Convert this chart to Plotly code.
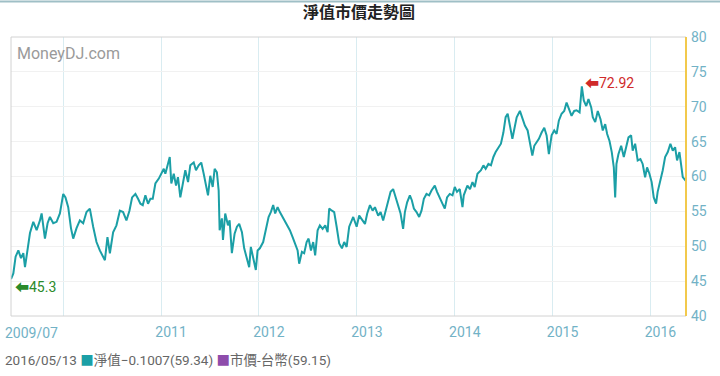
import plotly.graph_objects as go
from datetime import datetime

# ---- data ----
t_year = [
    2009.466, 2009.490, 2009.513, 2009.541, 2009.568, 2009.592, 2009.609, 2009.636, 2009.660, 2009.694,
    2009.728, 2009.762, 2009.779, 2009.813, 2009.840, 2009.864, 2009.898, 2009.932, 2009.966, 2010.000,
    2010.023, 2010.051, 2010.079, 2010.102, 2010.136, 2010.170, 2010.204, 2010.238, 2010.272, 2010.306,
    2010.340, 2010.374, 2010.398, 2010.426, 2010.452, 2010.477, 2010.510, 2010.544, 2010.579, 2010.612,
    2010.646, 2010.677, 2010.704, 2010.738, 2010.765, 2010.789, 2010.813, 2010.840, 2010.867, 2010.891,
    2010.915, 2010.942, 2010.977, 2011.003, 2011.028, 2011.044, 2011.071, 2011.089, 2011.105, 2011.130,
    2011.153, 2011.173, 2011.197, 2011.224, 2011.248, 2011.276, 2011.299, 2011.334, 2011.357, 2011.385,
    2011.411, 2011.436, 2011.459, 2011.480, 2011.503, 2011.528, 2011.548, 2011.571, 2011.589, 2011.599,
    2011.622, 2011.633, 2011.656, 2011.684, 2011.701, 2011.724, 2011.752, 2011.776, 2011.799, 2011.827,
    2011.850, 2011.874, 2011.901, 2011.918, 2011.942, 2011.969, 2011.987, 2012.010, 2012.044, 2012.071,
    2012.099, 2012.122, 2012.146, 2012.166, 2012.191, 2012.214, 2012.242, 2012.268, 2012.293, 2012.316,
    2012.344, 2012.370, 2012.395, 2012.411, 2012.439, 2012.462, 2012.487, 2012.507, 2012.531, 2012.554,
    2012.574, 2012.599, 2012.622, 2012.650, 2012.677, 2012.701, 2012.717, 2012.745, 2012.768, 2012.793,
    2012.819, 2012.847, 2012.870, 2012.895, 2012.921, 2012.962, 2012.997, 2013.023, 2013.058, 2013.082,
    2013.105, 2013.133, 2013.160, 2013.184, 2013.217, 2013.242, 2013.268, 2013.296, 2013.319, 2013.344,
    2013.370, 2013.398, 2013.421, 2013.446, 2013.472, 2013.490, 2013.513, 2013.541, 2013.561, 2013.582,
    2013.609, 2013.636, 2013.660, 2013.684, 2013.711, 2013.738, 2013.762, 2013.796, 2013.819, 2013.847,
    2013.874, 2013.898, 2013.921, 2013.949, 2013.977, 2014.000, 2014.023, 2014.051, 2014.079, 2014.092,
    2014.129, 2014.156, 2014.181, 2014.204, 2014.232, 2014.268, 2014.293, 2014.316, 2014.344, 2014.370,
    2014.395, 2014.418, 2014.446, 2014.472, 2014.497, 2014.520, 2014.541, 2014.564, 2014.589, 2014.609,
    2014.633, 2014.666, 2014.691, 2014.717, 2014.745, 2014.768, 2014.793, 2014.813, 2014.837, 2014.860,
    2014.888, 2014.915, 2014.939, 2014.962, 2014.990, 2015.017, 2015.041, 2015.064, 2015.092, 2015.119,
    2015.143, 2015.166, 2015.194, 2015.221, 2015.245, 2015.276, 2015.299, 2015.319, 2015.344, 2015.367,
    2015.395, 2015.411, 2015.436, 2015.462, 2015.490, 2015.513, 2015.538, 2015.558, 2015.582, 2015.605,
    2015.626, 2015.640, 2015.653, 2015.673, 2015.701, 2015.728, 2015.752, 2015.776, 2015.803, 2015.819,
    2015.844, 2015.870, 2015.898, 2015.921, 2015.946, 2015.966, 2015.990, 2016.013, 2016.034, 2016.058,
    2016.074, 2016.102, 2016.126, 2016.150, 2016.177, 2016.204, 2016.228, 2016.252, 2016.272, 2016.296,
    2016.313, 2016.330, 2016.363,
]
nav = [
    45.3, 46.1, 48.5, 49.4, 48.3, 49.0, 47.0, 49.7, 51.9, 53.5,
    52.3, 53.7, 54.7, 51.1, 53.3, 54.2, 53.3, 53.5, 54.7, 57.5,
    57.0, 55.6, 52.6, 51.1, 52.6, 53.7, 53.3, 54.9, 55.4, 52.8,
    50.6, 49.4, 48.7, 48.0, 51.3, 49.0, 52.0, 53.0, 55.1, 54.9,
    53.7, 55.1, 57.0, 57.5, 56.8, 56.1, 55.9, 57.3, 56.1, 56.8,
    56.8, 59.0, 59.7, 60.4, 61.1, 60.4, 62.0, 62.8, 59.0, 60.4,
    58.7, 59.9, 57.0, 59.0, 60.9, 59.2, 61.6, 62.0, 60.9, 61.6,
    62.0, 60.4, 58.5, 57.3, 60.1, 58.5, 61.1, 60.6, 58.0, 52.3,
    54.0, 50.9, 54.7, 53.0, 53.7, 49.0, 51.8, 52.8, 53.2, 52.0,
    49.7, 48.5, 47.0, 49.9, 48.5, 46.6, 49.4, 49.7, 50.6, 52.3,
    54.2, 54.9, 55.9, 54.7, 55.6, 54.9, 54.2, 53.5, 53.0, 52.3,
    51.3, 50.4, 49.4, 47.5, 49.2, 49.0, 50.6, 51.1, 49.4, 50.6,
    48.7, 52.3, 53.0, 52.5, 53.0, 52.0, 55.4, 55.1, 54.9, 52.8,
    50.4, 49.7, 50.6, 49.9, 52.8, 54.2, 52.8, 54.4, 53.7, 53.2,
    54.7, 55.9, 55.1, 55.6, 54.4, 54.9, 53.7, 55.1, 56.6, 57.8,
    58.2, 57.0, 56.1, 54.7, 52.5, 54.9, 56.3, 57.3, 56.6, 55.4,
    54.9, 54.2, 55.1, 56.8, 57.5, 57.3, 58.0, 58.7, 57.8, 56.8,
    56.1, 55.4, 57.0, 57.5, 57.3, 58.5, 57.8, 58.2, 55.6, 57.3,
    58.7, 58.2, 59.2, 58.5, 60.4, 60.9, 61.6, 61.1, 61.8, 61.6,
    62.8, 63.5, 64.2, 64.7, 66.3, 68.5, 69.0, 67.5, 65.4, 66.8,
    68.5, 69.4, 68.5, 67.3, 66.6, 64.9, 63.0, 64.4, 64.9, 65.4,
    66.3, 67.0, 65.9, 63.2, 65.9, 66.6, 66.1, 68.0, 69.0, 69.4,
    70.6, 69.7, 68.7, 69.4, 69.5, 69.2, 72.92, 70.9, 70.1, 71.1,
    69.9, 68.5, 67.8, 69.4, 68.2, 66.6, 67.5, 66.1, 65.1, 63.5,
    61.3, 57.0, 61.8, 63.2, 64.4, 62.8, 64.2, 65.6, 65.9, 63.7,
    64.7, 62.3, 62.5, 61.8, 59.9, 61.3, 60.4, 59.2, 57.0, 56.1,
    57.8, 59.4, 60.9, 62.8, 63.5, 64.7, 63.7, 64.2, 62.3, 63.5,
    61.8, 59.9, 59.34,
]
year_ticks = ["2010-01-01", "2011-01-01", "2012-01-01", "2013-01-01",
              "2014-01-01", "2015-01-01", "2016-01-01"]
year_labels = ["", "2011", "2012", "2013", "2014", "2015", "2016"]
first_label = "2009/07"
y_ticks = [40, 45, 50, 55, 60, 65, 70, 75, 80]
title_text = "淨值市價走勢圖"
legend_date = "2016/05/13"
legend_nav = "淨值−0.1007(59.34)"
legend_price = "市價-台幣(59.15)"


def to_date(y):
    yr = int(y)
    start, end = datetime(yr, 1, 1), datetime(yr + 1, 1, 1)
    return start + (end - start) * (y - yr)


dates = [to_date(v) for v in t_year]
imax = max(range(len(nav)), key=lambda i: nav[i])
imin = min(range(len(nav)), key=lambda i: nav[i])

TEAL = "#1b9fa6"
TICK = "#72b2c6"
FONT = "Roboto, 'Noto Sans CJK TC', sans-serif"

fig = go.Figure()
fig.add_trace(go.Scatter(x=dates, y=nav, mode="lines",
                         line=dict(color=TEAL, width=2), hoverinfo="skip"))

fig.update_layout(
    width=720, height=376,
    margin=dict(l=11, r=34, t=37, b=60),
    paper_bgcolor="white", plot_bgcolor="white",
    showlegend=False,
    font=dict(family=FONT),
    xaxis=dict(
        type="date", range=[dates[0], dates[-1]],
        tickvals=year_ticks, ticktext=year_labels,
        showgrid=True, gridcolor="#d9ecf1", gridwidth=1,
        zeroline=False, showline=False, ticks="",
        tickfont=dict(size=14, color=TICK), ticklabelshift=10,
        ticklabelstandoff=6,
    ),
    yaxis=dict(
        side="right", range=[40, 80], tickvals=y_ticks,
        showgrid=True, gridcolor="#f1f1f1", gridwidth=1,
        zeroline=False, showline=False, ticks="",
        tickfont=dict(size=14, color=TICK), ticklabelstandoff=4,
    ),
    shapes=[
        dict(type="rect", xref="paper", yref="paper", x0=0, x1=1, y0=0, y1=1,
             line=dict(color="#d2d2d2", width=1)),
        dict(type="line", xref="paper", yref="paper", x0=1, x1=1, y0=0, y1=1,
             line=dict(color="#f2c94c", width=2)),
        dict(type="line", xref="paper", yref="paper", x0=-0.0163, x1=1.0504,
             y0=1.127, y1=1.127, line=dict(color="#9fbfc6", width=2)),
    ],
    annotations=[
        dict(text=f"<b>{title_text}</b>", xref="paper", yref="paper",
             x=0.515, y=1, yshift=25, xanchor="center", yanchor="middle",
             showarrow=False, font=dict(size=16, color="#222222")),
        dict(text="MoneyDJ.com", xref="paper", yref="paper", x=0, y=1,
             xshift=4, yshift=-16, xanchor="left", yanchor="middle",
             showarrow=False, font=dict(size=16, color="#9a9a9a")),
        dict(text=first_label, xref="paper", yref="paper", x=0, y=0,
             xshift=-8, yshift=-17, xanchor="left", yanchor="middle",
             showarrow=False, font=dict(size=14, color=TICK)),
        dict(text=f"⬅{nav[imin]:g}", x=dates[imin], y=nav[imin],
             xanchor="left", yanchor="middle", xshift=2, yshift=-8,
             showarrow=False, font=dict(size=14, color="#2a8a2a")),
        dict(text=f"⬅{nav[imax]:.2f}", x=dates[imax], y=nav[imax],
             xanchor="left", yanchor="middle", xshift=1, yshift=3,
             showarrow=False, font=dict(size=14, color="#d02a2a")),
        dict(text=(f"{legend_date} <span style='color:{TEAL}'>■</span>{legend_nav} "
                   f"<span style='color:#8e4cab'>■</span>{legend_price}"),
             xref="paper", yref="paper", x=0, y=0, xshift=-8, yshift=-44,
             xanchor="left", yanchor="middle", showarrow=False,
             font=dict(size=13.5, color="#666666")),
    ],
)

fig.write_html("out.html", config={"displayModeBar": False},
               post_script="document.body.style.margin='0';")
